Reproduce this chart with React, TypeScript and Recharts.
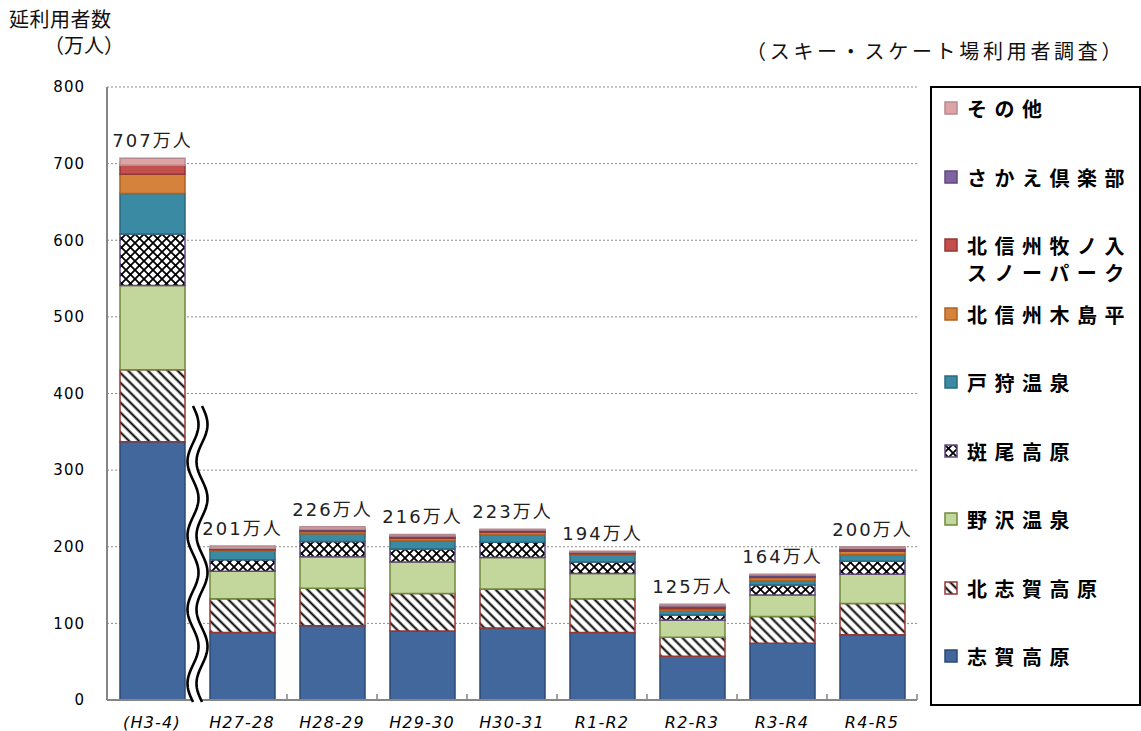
import React from 'react';
import { BarChart, Bar, XAxis, YAxis, CartesianGrid, LabelList } from 'recharts';

// ---- data ----
const categories = ['(H3-4)', 'H27-28', 'H28-29', 'H29-30', 'H30-31', 'R1-R2', 'R2-R3', 'R3-R4', 'R4-R5'];
const shigaKogen = [337, 88, 97, 90, 94, 88, 57, 74, 85];
const kitaShigaKogen = [94, 44, 49, 49, 51, 44, 25, 35, 41];
const nozawaOnsen = [110, 36, 41, 41, 41, 33, 22, 28, 38];
const madaraoKogen = [67, 15, 20, 17, 20, 15, 7, 13, 17];
const togariOnsen = [53, 11, 10, 11, 10, 10, 5, 6, 9];
const kijimadaira = [25, 2, 3, 3, 3, 1, 3, 4, 4];
const makinoiri = [12, 1, 2, 2, 2, 1, 2, 1, 2];
const sakaeClub = [0, 1, 1, 1, 1, 1, 2, 2, 2];
const others = [9, 3, 3, 2, 1, 1, 2, 1, 2];
const totals = [707, 201, 226, 216, 223, 194, 125, 164, 200];
const yTicks = [0, 100, 200, 300, 400, 500, 600, 700, 800];

const data = categories.map((name, i) => ({
  name,
  shiga: shigaKogen[i],
  kitashiga: kitaShigaKogen[i],
  nozawa: nozawaOnsen[i],
  madarao: madaraoKogen[i],
  togari: togariOnsen[i],
  kijima: kijimadaira[i],
  makinoiri: makinoiri[i],
  sakae: sakaeClub[i],
  other: others[i],
  total: totals[i],
}));

// ---- series styling (bottom to top) ----
const SERIES = [
  { key: 'shiga', label: ['志賀高原'], fill: '#41679C', stroke: '#2B4B74' },
  { key: 'kitashiga', label: ['北志賀高原'], fill: 'url(#hatchKS)', stroke: '#953735' },
  { key: 'nozawa', label: ['野沢温泉'], fill: '#C3D69B', stroke: '#6E8B3D' },
  { key: 'madarao', label: ['斑尾高原'], fill: 'url(#crossMD)', stroke: '#604A7B' },
  { key: 'togari', label: ['戸狩温泉'], fill: '#3A8AA3', stroke: '#2A6A80' },
  { key: 'kijima', label: ['北信州木島平'], fill: '#D4823C', stroke: '#B0621E' },
  { key: 'makinoiri', label: ['北信州牧ノ入', 'スノーパーク'], fill: '#C4504D', stroke: '#943634' },
  { key: 'sakae', label: ['さかえ倶楽部'], fill: '#8064A2', stroke: '#5F497A' },
  { key: 'other', label: ['その他'], fill: '#DDA3A5', stroke: '#B58A8E' },
];

const W = 1141;
const H = 731;
const MARGIN = { top: 87, right: 224, bottom: 0, left: 0 };
const Y_AXIS_W = 107;
const X_AXIS_H = 31;
const PLOT_W = W - MARGIN.left - MARGIN.right - Y_AXIS_W;
const HALF_BAND = PLOT_W / categories.length / 2;

const XTick = (props: any) => {
  const { x, y, payload } = props;
  return (
    <g>
      <text
        x={x}
        y={y + 28}
        textAnchor="middle"
        fontStyle="italic"
        fontSize={16}
        letterSpacing={1.2}
        fontFamily="DejaVu Sans, sans-serif"
        fill="#000"
      >
        {payload.value}
      </text>
      <line x1={x + HALF_BAND} x2={x + HALF_BAND} y1={y} y2={y - 6} stroke="#868686" strokeWidth={1.5} />
    </g>
  );
};

const TotalLabel = (props: any) => {
  const { x, y, width, value } = props;
  return (
    <text
      x={Number(x) + Number(width) / 2}
      y={Number(y) - 11}
      textAnchor="middle"
      fontSize={18}
      letterSpacing={2}
      fontFamily="DejaVu Sans, 'Noto Sans CJK JP', sans-serif"
      fill="#222"
    >
      {value}万人
    </text>
  );
};

const LegendBox = () => {
  const items = [...SERIES].reverse();
  return (
    <div
      style={{
        position: 'absolute',
        left: 930,
        top: 86,
        width: 211,
        height: 620,
        boxSizing: 'border-box',
        border: '2px solid #000',
        background: '#fff',
      }}
    >
      {items.map((s, i) => (
        <div
          key={s.key}
          style={{
            position: 'absolute',
            left: 12,
            top: 7 + i * 68.5,
            display: 'flex',
            alignItems: 'flex-start',
          }}
        >
          <svg width={15} height={15} style={{ marginTop: 6, marginRight: 8, flex: 'none' }}>
            <rect x={1} y={1} width={12} height={12} fill={s.fill} stroke={s.stroke} strokeWidth={1.5} />
          </svg>
          <div
            style={{
              fontFamily: '"Noto Sans CJK JP", sans-serif',
              fontWeight: 700,
              fontSize: 20,
              letterSpacing: 7.5,
              lineHeight: '27px',
              color: '#000',
              whiteSpace: 'nowrap',
            }}
          >
            {s.label.map((l) => (
              <div key={l}>{l}</div>
            ))}
          </div>
        </div>
      ))}
    </div>
  );
};

function wavePoints(cx: number, y0: number, y1: number, amp: number, period: number, reverse = false) {
  const pts: [number, number][] = [];
  for (let y = y0; y <= y1; y += 2) {
    pts.push([cx + amp * Math.sin(((y - y0) / period) * Math.PI * 2), y]);
  }
  return reverse ? pts.reverse() : pts;
}

const BreakMark = () => {
  const y0 = 406;
  const y1 = 702;
  const amp = 5.5;
  const period = 74;
  const a = wavePoints(193, y0, y1, amp, period);
  const b = wavePoints(202, y0, y1, amp, period);
  const toPath = (pts: [number, number][]) =>
    pts.map((p, i) => `${i === 0 ? 'M' : 'L'}${p[0].toFixed(2)},${p[1]}`).join(' ');
  const band = toPath([...a, ...wavePoints(202, y0, y1, amp, period, true)]) + ' Z';
  return (
    <svg width={W} height={H} style={{ position: 'absolute', left: 0, top: 0, pointerEvents: 'none' }}>
      <path d={band} fill="#fff" />
      <path d={toPath(a)} fill="none" stroke="#000" strokeWidth={2.6} />
      <path d={toPath(b)} fill="none" stroke="#000" strokeWidth={2.6} />
    </svg>
  );
};

export default function App() {
  return (
    <div
      style={{
        position: 'absolute',
        left: 0,
        top: 0,
        width: W,
        height: H,
        background: '#fff',
        fontFamily: '"Noto Sans CJK JP", sans-serif',
        overflow: 'hidden',
      }}
    >
      <div style={{ position: 'absolute', left: 9, top: 4, fontSize: 20, letterSpacing: 0.5, color: '#111' }}>延利用者数</div>
      <div style={{ position: 'absolute', left: 44, top: 30, fontSize: 20, color: '#111' }}>（万人）</div>
      <div style={{ position: 'absolute', left: 746, top: 36, fontSize: 20, letterSpacing: 3.7, color: '#111' }}>
        （スキー・スケート場利用者調査）
      </div>
      <BarChart width={W} height={H} data={data} margin={MARGIN} barSize={65}>
        <defs>
          <pattern id="hatchKS" patternUnits="userSpaceOnUse" width={7} height={7} patternTransform="rotate(-45)">
            <rect width={7} height={7} fill="#fff" />
            <line x1={3.5} y1={0} x2={3.5} y2={7} stroke="#000" strokeWidth={2} />
          </pattern>
          <pattern id="crossMD" patternUnits="userSpaceOnUse" width={9} height={9}>
            <rect width={9} height={9} fill="#fff" />
            <path d="M0,0 L9,9 M9,0 L0,9" stroke="#000" strokeWidth={1.8} />
            <circle cx={4.5} cy={4.5} r={1.2} fill="#000" />
          </pattern>
        </defs>
        <CartesianGrid vertical={false} stroke="#8c8c8c" strokeDasharray="2 2" />
        <YAxis
          width={Y_AXIS_W}
          domain={[0, 800]}
          ticks={yTicks}
          interval={0}
          tickLine={false}
          tickSize={0}
          tickMargin={22}
          axisLine={{ stroke: '#868686', strokeWidth: 2 }}
          tick={{ fill: '#000', fontSize: 15, fontFamily: 'DejaVu Sans, sans-serif', letterSpacing: 1 }}
        />
        <XAxis
          dataKey="name"
          height={X_AXIS_H}
          interval={0}
          tickLine={false}
          tickSize={0}
          tickMargin={0}
          axisLine={{ stroke: '#868686', strokeWidth: 2 }}
          tick={<XTick />}
        />
        {SERIES.map((s) => (
          <Bar
            key={s.key}
            dataKey={s.key}
            name={s.label.join('')}
            stackId="a"
            fill={s.fill}
            stroke={s.stroke}
            strokeWidth={1.5}
            isAnimationActive={false}
          >
            {s.key === 'other' ? <LabelList dataKey="total" content={<TotalLabel />} /> : null}
          </Bar>
        ))}
      </BarChart>
      <LegendBox />
      <BreakMark />
    </div>
  );
}
